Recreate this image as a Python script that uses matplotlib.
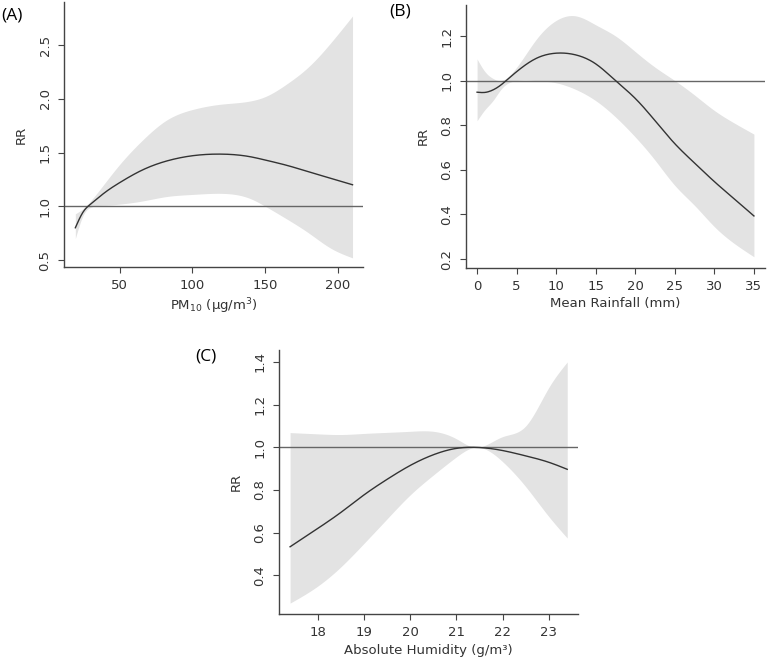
import numpy as np
import matplotlib
matplotlib.use("Agg")
import matplotlib.pyplot as plt

# ---------------------------------------------------------
# Panel A: PM10
# ---------------------------------------------------------
pm_x = [19.5, 25, 30, 40, 50, 66, 82, 100, 120, 140, 150, 165, 180, 195, 210]
pm_rr = [0.80, 0.95, 1.02, 1.13, 1.22, 1.34, 1.42, 1.47, 1.485, 1.46, 1.43, 1.38, 1.32, 1.26, 1.20]
pm_hi = [0.93, 0.98, 1.05, 1.22, 1.39, 1.62, 1.80, 1.90, 1.95, 1.98, 2.02, 2.14, 2.30, 2.52, 2.77]
pm_lo = [0.70, 0.92, 0.99, 1.01, 1.02, 1.05, 1.09, 1.11, 1.12, 1.07, 1.00, 0.88, 0.75, 0.61, 0.52]

# ---------------------------------------------------------
# Panel B: Mean rainfall
# ---------------------------------------------------------
rain_x = [0, 1, 2, 3, 4, 5, 7.5, 10, 12.5, 15, 17.5, 20, 22.5, 25, 27.5, 30, 32.5, 35]
rain_rr = [0.948, 0.947, 0.958, 0.98, 1.01, 1.04, 1.10, 1.123, 1.115, 1.075, 1.0, 0.92, 0.82, 0.717, 0.63, 0.547, 0.47, 0.393]
rain_hi = [1.097, 1.04, 1.01, 1.00, 1.02, 1.06, 1.186, 1.27, 1.29, 1.25, 1.20, 1.13, 1.06, 1.0, 0.935, 0.866, 0.81, 0.76]
rain_lo = [0.82, 0.87, 0.91, 0.96, 0.99, 1.0, 1.0, 0.99, 0.96, 0.91, 0.837, 0.747, 0.643, 0.53, 0.44, 0.345, 0.27, 0.21]

# ---------------------------------------------------------
# Panel C: Absolute humidity
# ---------------------------------------------------------
hum_x = [17.4, 18, 18.5, 19, 19.5, 20, 20.5, 21, 21.4, 22, 22.5, 23, 23.4]
hum_rr = [0.534, 0.62, 0.695, 0.777, 0.85, 0.915, 0.965, 0.995, 1.0, 0.985, 0.96, 0.93, 0.897]
hum_hi = [1.069, 1.063, 1.06, 1.065, 1.07, 1.075, 1.075, 1.04, 1.0, 1.05, 1.10, 1.28, 1.40]
hum_lo = [0.27, 0.35, 0.44, 0.55, 0.665, 0.777, 0.87, 0.955, 1.0, 0.933, 0.816, 0.676, 0.575]

BAND = "#e3e3e3"
LINE = "#333333"
REF = "#666666"


def spline(x, y, n=300):
    # natural cubic spline through the read-off points (draws them smoothly)
    x = np.asarray(x, float)
    y = np.asarray(y, float)
    k = len(x)
    h = np.diff(x)
    A = np.zeros((k, k))
    b = np.zeros(k)
    A[0, 0] = A[-1, -1] = 1
    for i in range(1, k - 1):
        A[i, i - 1] = h[i - 1]
        A[i, i] = 2 * (h[i - 1] + h[i])
        A[i, i + 1] = h[i]
        b[i] = 6 * ((y[i + 1] - y[i]) / h[i] - (y[i] - y[i - 1]) / h[i - 1])
    m = np.linalg.solve(A, b)
    xs = np.linspace(x[0], x[-1], n)
    idx = np.clip(np.searchsorted(x, xs) - 1, 0, k - 2)
    x0, x1 = x[idx], x[idx + 1]
    hh = x1 - x0
    t0, t1 = x1 - xs, xs - x0
    ys = (m[idx] * t0 ** 3 + m[idx + 1] * t1 ** 3) / (6 * hh) \
        + (y[idx] / hh - m[idx] * hh / 6) * t0 \
        + (y[idx + 1] / hh - m[idx + 1] * hh / 6) * t1
    return xs, ys


def panel(ax, x, rr, lo, hi, xticks, yticks, xlabel, xlim, ylim):
    sx, shi = spline(x, hi)
    _, slo = spline(x, lo)
    _, srr = spline(x, rr)
    ax.fill_between(sx, slo, shi, color=BAND, lw=0)
    ax.axhline(1.0, color=REF, lw=1.0)
    ax.plot(sx, srr, color=LINE, lw=1.0)
    ax.set_xlim(*xlim)
    ax.set_ylim(*ylim)
    ax.set_xticks(xticks)
    ax.set_yticks(yticks)
    ax.set_yticklabels([f"{v:.1f}" for v in yticks], rotation=90, va="center")
    ax.spines["top"].set_visible(False)
    ax.spines["right"].set_visible(False)
    for s in ("left", "bottom"):
        ax.spines[s].set_color("#444444")
        ax.spines[s].set_linewidth(1.0)
    ax.tick_params(direction="out", length=4, width=0.8, colors="#444444",
                   labelcolor="#333333", labelsize=9.5, pad=5)
    ax.set_ylabel("RR", fontsize=9.5, color="#333333", labelpad=8)
    ax.set_xlabel(xlabel, fontsize=9.5, color="#333333", labelpad=3)


fig = plt.figure(figsize=(7.67, 6.61), dpi=100)

axA = fig.add_axes([64 / 767, 1 - 267 / 661, 299 / 767, 265 / 661])
panel(axA, pm_x, pm_rr, pm_lo, pm_hi, [50, 100, 150, 200], [0.5, 1.0, 1.5, 2.0, 2.5],
      r"PM$_{10}$ ($\mathregular{\mu}$g/m$^3$)", (11.7, 217.2), (0.435, 2.90))

axB = fig.add_axes([466 / 767, 1 - 267.7 / 661, 299 / 767, 262.7 / 661])
panel(axB, rain_x, rain_rr, rain_lo, rain_hi, [0, 5, 10, 15, 20, 25, 30, 35],
      [0.2, 0.4, 0.6, 0.8, 1.0, 1.2], "Mean Rainfall (mm)", (-1.4, 36.4), (0.161, 1.339))

axC = fig.add_axes([279 / 767, 1 - 614 / 661, 299.3 / 767, 264 / 661])
panel(axC, hum_x, hum_rr, hum_lo, hum_hi, [18, 19, 20, 21, 22, 23],
      [0.4, 0.6, 0.8, 1.0, 1.2, 1.4], "Absolute Humidity (g/m\u00b3)", (17.16, 23.64), (0.219, 1.456))

fig.text(1 / 767, 1 - 16 / 661, "(A)", fontsize=12.5, family="Open Sans", va="center", ha="left")
fig.text(389 / 767, 1 - 12 / 661, "(B)", fontsize=12.5, family="Open Sans", va="center", ha="left")
fig.text(195 / 767, 1 - 356 / 661, "(C)", fontsize=12.5, family="Open Sans", va="center", ha="left")

fig.savefig("out.png", dpi=100)
